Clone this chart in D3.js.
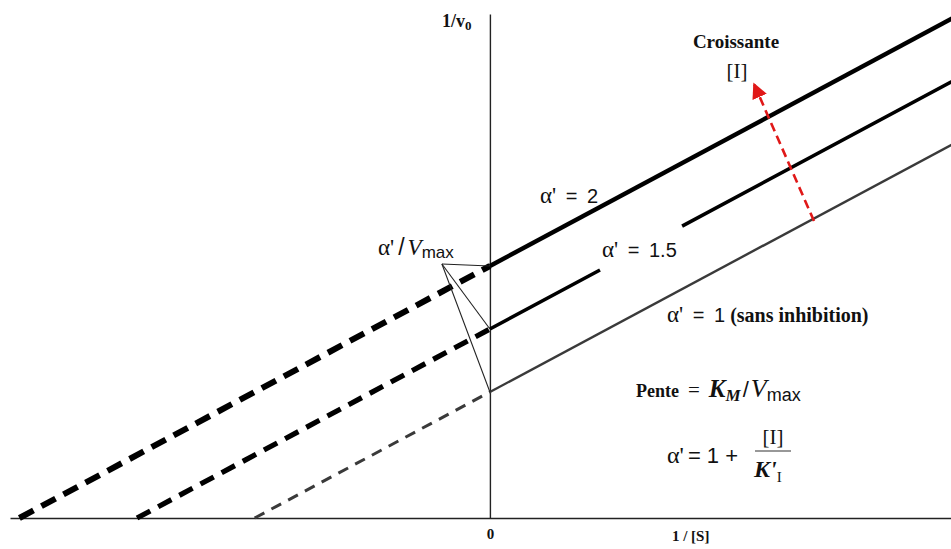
<!DOCTYPE html>
<html><head><meta charset="utf-8">
<script src="https://cdn.jsdelivr.net/npm/d3@7"></script>
<style>
html,body{margin:0;padding:0;background:#fff;}
svg{display:block;}
</style></head>
<body>
<svg id="chart" width="951" height="549"></svg>
<script>
// ---- data ----
const alphas = [1, 1.5, 2];              // α' values
const alphaLabels = ["α' = 1", "α' = 1.5", "α' = 2"];
const invVmax = 1;                       // 1/Vmax
const Km = 1;                            // Km (slope = Km/Vmax)
const xDomain = [-2.04, 1.96];           // 1/[S]
const yDomain = [0, 4];                  // 1/v0
const xTickValues = [0];
const xTickLabels = ["0"];

// ---- layout / style ----
const svg = d3.select("#chart");
const x = d3.scaleLinear().domain(xDomain).range([10, 951]);
const y = d3.scaleLinear().domain(yDomain).range([518, 14]);
const serif = "'Liberation Serif', 'Times New Roman', serif";
const sans = "'Liberation Sans', Arial, sans-serif";

const styles = {
  1:   {solidW: 2.4, dashW: 3.0, color: "#3a3a3a", dash: "11 8"},
  1.5: {solidW: 3.6, dashW: 5.2, color: "#000", dash: "15 9"},
  2:   {solidW: 4.4, dashW: 6,   color: "#000", dash: "16 9"}
};

// axes
const xAxis = d3.axisBottom(x).tickValues(xTickValues).tickFormat((d,i)=>xTickLabels[i])
  .tickSize(0).tickPadding(10);
const gx = svg.append("g").attr("transform", `translate(0,${y(0)})`).call(xAxis);
gx.select(".domain").attr("stroke", "#222").attr("stroke-width", 1.6);
gx.selectAll("text").attr("font-family", serif).attr("font-weight", "bold")
  .attr("font-size", 15).attr("fill", "#111");

const yAxis = d3.axisLeft(y).tickValues([]).tickSize(0).tickSizeOuter(0);
const gy = svg.append("g").attr("transform", `translate(${x(0)},0)`).call(yAxis);
gy.select(".domain").attr("stroke", "#222").attr("stroke-width", 1.4);

// axis titles
svg.append("text").attr("x", x(0) - 48).attr("y", 27)
  .attr("font-family", serif).attr("font-weight", "bold").attr("font-size", 18).attr("fill", "#111")
  .text("1/v").append("tspan").attr("font-size", 13).attr("dy", 3).text("0");
svg.append("text").attr("x", x(0) + 182).attr("y", y(0) + 23)
  .attr("font-family", serif).attr("font-weight", "bold").attr("font-size", 15).attr("fill", "#111")
  .text("1 / [S]");

// lines
const line = d3.line().x(d => x(d[0])).y(d => y(d[1]));
alphas.forEach(a => {
  const b = a * invVmax, s = Km * invVmax;
  const f = v => s * v + b;
  const x0 = -b / s;
  const st = styles[a];
  svg.append("path").attr("d", line([[x0, 0], [0, f(0)]]))
    .attr("fill", "none").attr("stroke", st.color).attr("stroke-width", st.dashW)
    .attr("stroke-dasharray", st.dash);
  const p = svg.append("path").attr("d", line([[0, f(0)], [xDomain[1] + 0.05, f(xDomain[1] + 0.05)]]))
    .attr("fill", "none").attr("stroke", st.color).attr("stroke-width", st.solidW);
  if (a === 1.5) {
    const k = Math.hypot(1, (y(0) - y(s)) / (x(1) - x(0)));
    const g0 = (x(0.468) - x(0)) * k, g1 = (x(0.817) - x(0.468)) * k;
    p.attr("stroke-dasharray", `${g0} ${g1} 3000`);
  }
});

// α'/Vmax pointer
const apex = [x(0) - 48, y(2 * invVmax) - 2];
alphas.forEach(a => {
  svg.append("line").attr("x1", apex[0]).attr("y1", apex[1])
    .attr("x2", x(0)).attr("y2", y(a * invVmax))
    .attr("stroke", "#222").attr("stroke-width", 1.1);
});
const av = svg.append("text").attr("x", 378).attr("y", 255).attr("font-size", 23).attr("fill", "#111");
av.append("tspan").attr("font-family", serif).text("α'");
av.append("tspan").attr("font-family", sans).attr("dx", 4).text("/");
av.append("tspan").attr("font-family", serif).attr("font-style", "italic").attr("dx", 3).text("V");
av.append("tspan").attr("font-family", sans).attr("font-size", 17).attr("dy", 3).text("max");

// line labels
function alphaLabel(xp, yp, txt) {
  const t = svg.append("text").attr("x", xp).attr("y", yp).attr("fill", "#111")
    .attr("font-size", 20).attr("font-family", sans).attr("word-spacing", 4);
  t.append("tspan").attr("font-family", serif).attr("font-size", 23).text(txt.slice(0, 2));
  t.append("tspan").text(txt.slice(2));
  return t;
}
alphaLabel(540, 203, alphaLabels[2]);
alphaLabel(602, 257, alphaLabels[1]);
const l1 = alphaLabel(667, 322, alphaLabels[0]);
l1.append("tspan").attr("font-family", serif).attr("font-weight", "bold").attr("font-size", 20)
  .attr("dx", 5).attr("word-spacing", 0).text("(sans inhibition)");

// Pente = KM/Vmax
const pt = svg.append("text").attr("x", 636).attr("y", 397).attr("fill", "#111");
pt.append("tspan").attr("font-family", serif).attr("font-weight", "bold").attr("font-size", 18).text("Pente");
pt.append("tspan").attr("font-family", serif).attr("font-size", 21).attr("dx", 9).text("=");
pt.append("tspan").attr("font-family", serif).attr("font-style", "italic").attr("font-weight", "bold").attr("font-size", 25).attr("dx", 9).text("K");
pt.append("tspan").attr("font-family", serif).attr("font-style", "italic").attr("font-weight", "bold").attr("font-size", 17).attr("dy", 4).text("M");
pt.append("tspan").attr("font-family", sans).attr("font-size", 22).attr("dy", -4).attr("dx", 2).text("/");
pt.append("tspan").attr("font-family", serif).attr("font-style", "italic").attr("font-size", 26).attr("dx", 2).text("V");
pt.append("tspan").attr("font-family", sans).attr("font-size", 18).attr("dy", 4).text("max");

// α' = 1 + [I]/K'I
const af = svg.append("text").attr("x", 667).attr("y", 463).attr("fill", "#111");
af.append("tspan").attr("font-family", serif).attr("font-size", 24).text("α'");
af.append("tspan").attr("font-family", sans).attr("font-size", 22).attr("dx", 4).text("= 1 +");
svg.append("line").attr("x1", 755).attr("x2", 791).attr("y1", 451).attr("y2", 451)
  .attr("stroke", "#333").attr("stroke-width", 1.2);
svg.append("text").attr("x", 773).attr("y", 444).attr("text-anchor", "middle")
  .attr("font-family", serif).attr("font-size", 21).attr("fill", "#111").text("[I]");
const kf = svg.append("text").attr("x", 754).attr("y", 477).attr("fill", "#111");
kf.append("tspan").attr("font-family", serif).attr("font-style", "italic").attr("font-weight", "bold").attr("font-size", 24).text("K'");
kf.append("tspan").attr("font-family", serif).attr("font-size", 15).attr("dy", 5).text("I");

// red arrow "Croissante [I]"
const defs = svg.append("defs");
defs.append("marker").attr("id", "ah").attr("viewBox", "0 0 10 10").attr("refX", 9).attr("refY", 5)
  .attr("markerWidth", 6).attr("markerHeight", 6).attr("orient", "auto-start-reverse")
  .append("path").attr("d", "M0,0 L10,5 L0,10 Z").attr("fill", "#e01818");
svg.append("line").attr("x1", 814).attr("y1", 221).attr("x2", 754).attr("y2", 84)
  .attr("stroke", "#e01818").attr("stroke-width", 2.6).attr("stroke-dasharray", "9 5")
  .attr("marker-end", "url(#ah)");
svg.append("text").attr("x", 736).attr("y", 48).attr("text-anchor", "middle")
  .attr("font-family", serif).attr("font-weight", "bold").attr("font-size", 19).attr("fill", "#111").text("Croissante");
svg.append("text").attr("x", 737).attr("y", 78).attr("text-anchor", "middle")
  .attr("font-family", serif).attr("font-size", 21).attr("fill", "#111").text("[I]");
</script>
</body></html>
